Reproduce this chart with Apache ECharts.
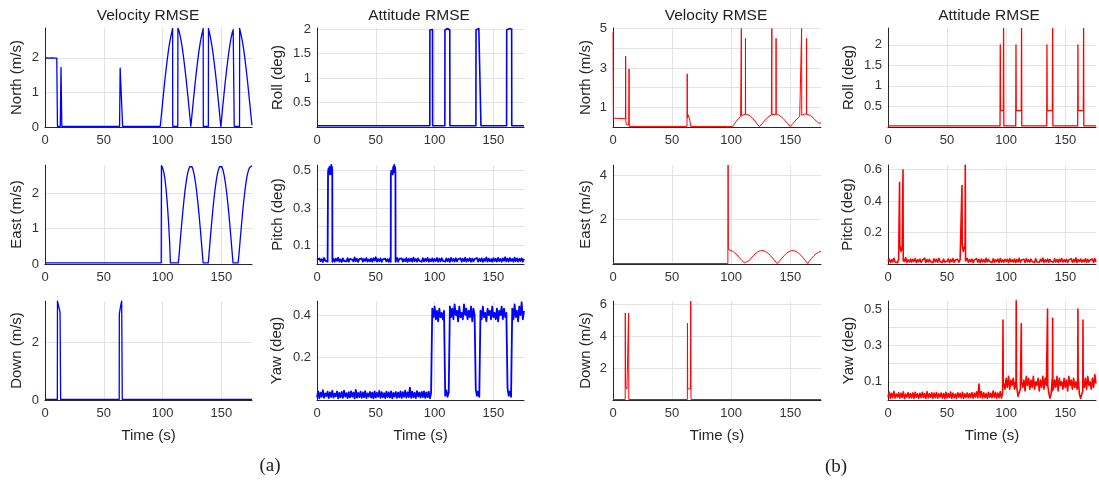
<!DOCTYPE html>
<html><head><meta charset="utf-8">
<script src="https://cdn.jsdelivr.net/npm/echarts@6/dist/echarts.min.js"></script>
<style>html,body{margin:0;padding:0;background:#fff}#c{width:1099px;height:483px}</style>
</head><body><div id="c"></div><script>
// ---------------- DATA ----------------
const xTicks = [0, 50, 100, 150];
const X_MAX = 176;

// (a) Velocity North (m/s)  [t, value]
const northA = [
[0,1.99],[1,1.95],[2,2.0],[3,1.96],[4,1.99],[5,1.95],[6,2.0],[7,1.96],[8,1.99],[9,1.95],[10,1.99],[10.5,1.96],[10.6,0.02],
[13.0,0.02],[13.6,1.72],[14.3,0.02],
[63.4,0.02],[63.9,1.7],[66.0,0.02],
[98,0.02],[99,0.36],[100,0.71],[101,1.05],[102,1.38],[103,1.68],[104,1.96],[105,2.22],[106,2.44],[107,2.62],[108,2.77],[108.5,2.85],[108.6,0.02],
[112.9,0.02],[113,2.85],[114,2.77],[115,2.62],[116,2.44],[117,2.22],[118,1.96],[119,1.68],[120,1.38],[121,1.05],[122,0.71],[123,0.36],[124,0.02],
[125,0.36],[126,0.71],[127,1.05],[128,1.38],[129,1.68],[130,1.96],[131,2.22],[132,2.44],[133,2.62],[134,2.77],[134.5,2.85],[134.6,0.02],
[138.9,0.02],[139,2.85],[140,2.70],[141,2.53],[142,2.33],[143,2.09],[144,1.82],[145,1.53],[146,1.22],[147,0.88],[148,0.54],[149,0.18],[149.5,0.02],
[150,0.18],[151,0.54],[152,0.88],[153,1.22],[154,1.53],[155,1.82],[156,2.09],[157,2.33],[158,2.53],[159,2.70],[160,2.81],[160.8,2.85],[160.9,0.02],
[165.4,0.02],[165.5,2.85],[166,2.77],[167,2.62],[168,2.44],[169,2.22],[170,1.96],[171,1.68],[172,1.38],[173,1.05],[174,0.71],[175,0.36],[176,0.05]
];
// (a) Velocity East (m/s)
const eastA = [
[0,0.03],[98.8,0.03],[99,2.78],[100,2.72],[101,2.6],[102,2.4],[103,2.1],[104,1.7],[105,1.2],[106,0.6],[106.6,0.03],
[113.4,0.03],[114,0.25],[115,0.66],[116,1.05],[117,1.42],[118,1.76],[119,2.06],[120,2.31],[121,2.52],[122,2.66],[123,2.75],[124,2.78],
[125,2.75],[126,2.65],[127,2.50],[128,2.29],[129,2.03],[130,1.73],[131,1.39],[132,1.01],[133,0.62],[134,0.21],[134.5,0.03],
[138.8,0.03],[139.4,0.25],[140.4,0.66],[141.4,1.05],[142.4,1.42],[143.4,1.76],[144.4,2.06],[145.4,2.31],[146.4,2.52],[147.4,2.66],[148.4,2.75],[149.4,2.78],
[150.4,2.75],[151.4,2.65],[152.4,2.50],[153.4,2.29],[154.4,2.03],[155.4,1.73],[156.4,1.39],[157.4,1.01],[158.4,0.62],[159.4,0.21],[159.9,0.03],
[164.2,0.03],[165,0.3],[166,0.7],[167,1.08],[168,1.45],[169,1.79],[170,2.08],[171,2.33],[172,2.52],[173,2.65],[174,2.73],[175,2.77],[176,2.78]
];
// (a) Velocity Down (m/s)
const downA = [[0,0.02],[10.5,0.02],[10.6,3.45],[11.3,3.4],[12.8,3.05],[13.2,3.0],[13.3,0.02],[63.1,0.02],[63.2,3.0],[64.2,3.25],[65.2,3.45],[65.6,3.45],[65.7,0.02],[176,0.02]];
// (a) Attitude Roll (deg)
const rollA = [
[0,0.025],[95.9,0.025],[96,1.98],[96.4,2.0],[97,1.99],[97.6,2.0],[98.2,1.99],[98.3,0.025],
[108.7,0.025],[108.8,1.98],[109.5,2.0],[110.3,1.99],[111,2.01],[111.8,1.99],[112.5,2.0],[112.9,1.98],[113,0.025],
[135.1,0.025],[135.2,1.98],[136,2.0],[136.8,1.99],[137.6,2.01],[138.4,1.99],[139.3,2.0],[139.4,0.025],
[161.2,0.025],[161.3,1.98],[162.1,2.0],[162.9,1.99],[163.7,2.01],[164.5,1.99],[165.5,2.0],[165.6,0.025],[176,0.025]
];
// (a) Attitude Pitch (deg): 1-s samples [startTime, values] + pulses
const pitchA_noise = [
[0,[0.021,0.012,0.030,0.015,0.026,0.011,0.033,0.018,0.024,0.013]],
[10,[0.028,0.016,0.031,0.014,0.027,0.012,0.029,0.017,0.034,0.013]],
[20,[0.025,0.011,0.030,0.016,0.022,0.014,0.031,0.012,0.027,0.018]],
[30,[0.024,0.013,0.035,0.015,0.028,0.011,0.026,0.017,0.030,0.012]],
[40,[0.027,0.016,0.032,0.013,0.025,0.014,0.029,0.012,0.031,0.018]],
[50,[0.036,0.013,0.027,0.015,0.030,0.011,0.025,0.017,0.029,0.014]],
[60,[0.026,0.012,0.030,0.016,0.028,0.013,0.031,0.015,0.033,0.012]],
[70,[0.027,0.017,0.030,0.013,0.026,0.015,0.032,0.011,0.028,0.016]],
[80,[0.029,0.012,0.034,0.015,0.027,0.013,0.030,0.017,0.025,0.012]],
[90,[0.031,0.014,0.028,0.016,0.033,0.012,0.026,0.015,0.030,0.013]],
[100,[0.027,0.016,0.032,0.012,0.029,0.014,0.031,0.017,0.026,0.013]],
[110,[0.030,0.015,0.028,0.011,0.033,0.016,0.027,0.013,0.031,0.014]],
[120,[0.026,0.017,0.030,0.012,0.028,0.015,0.034,0.013,0.027,0.016]],
[130,[0.031,0.012,0.029,0.014,0.026,0.017,0.032,0.013,0.028,0.015]],
[140,[0.030,0.011,0.027,0.016,0.035,0.013,0.029,0.015,0.026,0.012]],
[150,[0.031,0.016,0.028,0.013,0.033,0.015,0.027,0.012,0.030,0.017]],
[160,[0.036,0.014,0.029,0.013,0.032,0.016,0.027,0.012,0.034,0.015]],
[170,[0.030,0.013,0.028,0.016,0.031,0.012,0.027]]
];
const pitchA_pulses = [
[[9.3,0.012],[9.4,0.49],[9.8,0.51],[10.2,0.49],[10.6,0.52],[11,0.48],[11.4,0.51],[11.8,0.49],[12.1,0.53],[12.4,0.48],[12.7,0.52],[13,0.5],[13.1,0.012]],
[[62.7,0.012],[62.8,0.48],[63.2,0.5],[63.6,0.49],[64,0.51],[64.4,0.48],[64.8,0.52],[65.2,0.49],[65.6,0.53],[66,0.5],[66.4,0.52],[66.7,0.49],[66.8,0.012]]
];
// (a) Attitude Yaw (deg): 1-s samples
const yawA_noise = [
[0,[0.012,0.041,0.008,0.035,0.015,0.046,0.010,0.031,0.018,0.039]],
[10,[0.009,0.036,0.014,0.043,0.011,0.030,0.017,0.040,0.008,0.034]],
[20,[0.013,0.038,0.010,0.044,0.016,0.032,0.009,0.037,0.012,0.041]],
[30,[0.015,0.035,0.008,0.048,0.011,0.033,0.014,0.039,0.010,0.036]],
[40,[0.013,0.042,0.009,0.031,0.016,0.038,0.011,0.035,0.008,0.040]],
[50,[0.012,0.034,0.015,0.043,0.010,0.037,0.013,0.032,0.009,0.039]],
[60,[0.014,0.036,0.011,0.041,0.008,0.033,0.016,0.038,0.010,0.035]],
[70,[0.013,0.040,0.009,0.037,0.015,0.044,0.011,0.036,0.014,0.058]],
[80,[0.010,0.039,0.013,0.034,0.009,0.042,0.016,0.035,0.011,0.038]],
[90,[0.014,0.041,0.010,0.036,0.013,0.039,0.008,0.033]],
[98,[0.43,0.39,0.44,0.38,0.42,0.37,0.43,0.39,0.41,0.38,0.42]],
[109,[0.02,0.045,0.015,0.035]],
[113,[0.44,0.39,0.43,0.38,0.45,0.40,0.42,0.37,0.44,0.39,0.41]],
[124,[0.38,0.45,0.40,0.43,0.38,0.42,0.39,0.44,0.37,0.43,0.40]],
[135,[0.05,0.02,0.04,0.015]],
[139,[0.42,0.38,0.44,0.39,0.41,0.37,0.43,0.40,0.42,0.38,0.44,0.39]],
[151,[0.41,0.38,0.43,0.37,0.42,0.40,0.44,0.38,0.43,0.39,0.41]],
[162,[0.055,0.02,0.04,0.015]],
[166,[0.43,0.38,0.45,0.39,0.42,0.37,0.44,0.40,0.46,0.38,0.42]]
];
// (b) Velocity North (m/s)
const northB = [
[0,4.8],[0.3,0.45],[1.5,0.42],[10.5,0.42],[10.7,3.6],[10.9,0.25],[11.5,0.12],[13.3,0.1],[13.6,2.95],[13.8,0.03],
[62.6,0.03],[62.8,2.7],[63.0,0.45],[63.6,0.62],[64.4,0.58],[65.0,0.35],[65.8,0.03],
[96.8,0.03],[97.3,0.12],[98,0.05],[101,0.02],[102,0.09],[104,0.26],[106,0.42],[108,0.54],[108.5,0.57],[108.6,5.0],[108.7,0.58],
[110,0.62],[112,0.65],[112.1,4.5],[112.2,0.65],[114,0.63],[116,0.56],[118,0.45],[120,0.31],[122,0.15],[124,0.02],
[126,0.16],[128,0.3],[130,0.43],[132,0.54],[134,0.61],[134.3,0.62],[134.4,5.0],[134.5,0.62],[136,0.65],[137.9,0.65],[138,4.5],[138.1,0.65],
[140,0.61],[142,0.54],[144,0.43],[146,0.3],[148,0.16],[150,0.02],[152,0.16],[154,0.3],[156,0.43],[158,0.54],[159.5,0.6],[159.6,5.0],[159.7,0.6],
[162,0.65],[163.7,0.65],[163.8,4.5],[163.9,0.65],[166,0.61],[168,0.54],[170,0.43],[172,0.3],[174,0.2],[176,0.2]
];
// (b) Velocity East (m/s)
const eastB = [
[0,0.02],[97.2,0.02],[97.4,4.45],[97.6,0.65],[99,0.63],[101,0.58],[103,0.5],[105,0.4],[107,0.28],[109,0.16],[111,0.06],[112.5,0.02],[113,0.1],[113.5,0.03],
[115,0.14],[117,0.27],[119,0.39],[121,0.49],[123,0.56],[125,0.6],[127,0.6],[129,0.56],[131,0.49],[133,0.39],[135,0.27],[137,0.14],[139,0.02],[139.4,0.08],[139.8,0.03],
[141,0.14],[143,0.27],[145,0.39],[147,0.49],[149,0.56],[151,0.6],[153,0.6],[155,0.56],[157,0.49],[159,0.39],[161,0.27],[163,0.14],[164.7,0.02],[165.1,0.08],[165.5,0.03],
[166,0.12],[168,0.25],[170,0.37],[172,0.46],[174,0.53],[176,0.58]
];
// (b) Velocity Down (m/s)
const downB = [[0,0.03],[10.3,0.03],[10.4,5.45],[10.6,0.85],[11,0.75],[11.8,0.7],[12.6,0.72],[13,0.8],[13.2,5.45],[13.4,0.03],
[62.9,0.03],[63,4.8],[63.2,0.7],[64,0.6],[64.8,0.62],[65.6,0.7],[65.8,6.2],[66,0.03],[176,0.03]];
// (b) Attitude Roll (deg)
const rollB = [[0,0.025],[94.8,0.025],[95,2.0],[95.2,0.4],[97.6,0.4],[97.8,2.4],[98,0.025],
[108.1,0.025],[108.3,2.0],[108.5,0.4],[112.8,0.4],[113,2.4],[113.2,0.025],
[134.3,0.025],[134.5,2.0],[134.7,0.4],[139.1,0.4],[139.3,2.4],[139.5,0.025],
[160.5,0.025],[160.7,2.0],[160.9,0.4],[165.3,0.4],[165.5,2.4],[165.7,0.025],[176,0.025]];
// (b) Attitude Pitch (deg)
const pitchB_noise = [
[0,[0.018,0.032,0.010,0.027,0.014,0.036,0.012,0.024,0.009,0.030]],
[10,[0.015,0.028,0.011,0.033,0.016,0.041,0.010,0.026,0.013,0.031]],
[20,[0.012,0.029,0.016,0.034,0.009,0.027,0.014,0.032,0.011,0.025]],
[30,[0.017,0.038,0.010,0.028,0.013,0.030,0.015,0.026,0.009,0.033]],
[40,[0.014,0.029,0.011,0.036,0.016,0.027,0.010,0.031,0.013,0.025]],
[50,[0.018,0.032,0.009,0.028,0.015,0.034,0.011,0.026,0.014,0.030]],
[60,[0.012,0.027,0.016,0.033,0.010,0.029,0.013,0.035,0.011,0.028]],
[70,[0.015,0.031,0.009,0.026,0.017,0.034,0.012,0.029,0.010,0.032]],
[80,[0.014,0.027,0.011,0.037,0.013,0.030,0.016,0.025,0.010,0.033]],
[90,[0.012,0.028,0.015,0.031,0.009,0.035,0.013,0.026,0.011,0.030]],
[100,[0.016,0.029,0.010,0.034,0.014,0.027,0.012,0.032,0.009,0.028]],
[110,[0.013,0.036,0.011,0.026,0.015,0.030,0.010,0.033,0.014,0.027]],
[120,[0.012,0.031,0.016,0.028,0.009,0.034,0.013,0.025,0.011,0.030]],
[130,[0.015,0.038,0.010,0.027,0.014,0.032,0.012,0.029,0.016,0.026]],
[140,[0.011,0.033,0.013,0.028,0.010,0.031,0.015,0.035,0.012,0.027]],
[150,[0.014,0.030,0.009,0.026,0.016,0.034,0.011,0.029,0.013,0.039]],
[160,[0.010,0.028,0.015,0.032,0.012,0.027,0.014,0.033,0.011,0.030]],
[170,[0.013,0.026,0.016,0.031,0.010,0.035,0.012]]
];
const pitchB_pulses = [
[[9.6,0.02],[9.8,0.52],[10,0.12],[10.5,0.1],[11,0.08],[11.5,0.09],[12,0.11],[12.5,0.12],[12.7,0.6],[12.9,0.02]],
[[62.4,0.02],[62.6,0.5],[62.8,0.12],[63.3,0.1],[63.8,0.08],[64.3,0.1],[64.8,0.11],[65.2,0.12],[65.4,0.63],[65.6,0.02]]
];
// (b) Attitude Yaw (deg)
const yawB_noise = [
[0,[0.015,0.044,0.009,0.037,0.013,0.048,0.011,0.033,0.017,0.040]],
[10,[0.010,0.038,0.014,0.045,0.008,0.032,0.016,0.041,0.011,0.036]],
[20,[0.012,0.039,0.009,0.043,0.015,0.034,0.010,0.037,0.013,0.042]],
[30,[0.014,0.036,0.008,0.046,0.012,0.035,0.015,0.040,0.009,0.038]],
[40,[0.013,0.041,0.010,0.034,0.016,0.039,0.011,0.036,0.008,0.043]],
[50,[0.012,0.035,0.014,0.044,0.009,0.038,0.013,0.033,0.010,0.040]],
[60,[0.015,0.037,0.011,0.042,0.009,0.034,0.014,0.039,0.012,0.036]],
[70,[0.013,0.041,0.010,0.038,0.016,0.045,0.012,0.088,0.014,0.047]],
[80,[0.011,0.040,0.013,0.036,0.009,0.043,0.015,0.037,0.012,0.050]],
[90,[0.014,0.042,0.010,0.038,0.013,0.046,0.011,0.040]],
[98,[0.11,0.06,0.12,0.07,0.13,0.06,0.11,0.08,0.12,0.06,0.10,0.07]],
[110,[0.02,0.01]],
[112,[0.06,0.12,0.07,0.11,0.05,0.13,0.08,0.12,0.06,0.11,0.07,0.13]],
[124,[0.06,0.10,0.08,0.12,0.05,0.11,0.07,0.13,0.06,0.12,0.08,0.10]],
[136,[0.04,0.01,0.03]],
[139,[0.12,0.06,0.11,0.07,0.13,0.05,0.12,0.08,0.10,0.06,0.12,0.07]],
[151,[0.11,0.05,0.13,0.08,0.11,0.06,0.12,0.07,0.10,0.06,0.12]],
[162,[0.03,0.01,0.02]],
[165,[0.11,0.07,0.12,0.06,0.13,0.08,0.10,0.06,0.12,0.07,0.14,0.09]]
];
const yawB_spikes = [
[[97.1,0.03],[97.3,0.44],[97.5,0.1]],[[108.3,0.07],[108.5,0.55],[108.7,0.1]],[[112.6,0.06],[112.8,0.42],[113,0.1]],
[[134.8,0.07],[135,0.5],[135.2,0.08]],[[139.1,0.05],[139.3,0.45],[139.5,0.1]],
[[160.5,0.08],[160.7,0.5],[160.9,0.09]],[[164.8,0.05],[165,0.44],[165.2,0.1]]
];
// y tick labels per panel
const ticksNorthA=[0,1,2], ticksEastA=[0,1,2], ticksDownA=[0,2];
const ticksRollA=[0.5,1,1.5,2], ticksPitchA=[0.1,0.3,0.5], ticksYawA=[0.2,0.4];
const ticksNorthB=[1,3,5], ticksEastB=[2,4], ticksDownB=[2,4,6];
const ticksRollB=[0.5,1,1.5,2], ticksPitchB=[0.2,0.4,0.6], ticksYawB=[0.1,0.3,0.5];

// ---------------- BUILD ----------------
function expand(segs){const p=[];segs.forEach(([t0,vals])=>vals.forEach((v,i)=>p.push([t0+i,v])));return p;}
function merge(base,groups){let pts=base.slice();groups.forEach(g=>{const a=g[0][0],b=g[g.length-1][0];pts=pts.filter(p=>p[0]<a||p[0]>b);pts=pts.concat(g);});pts.sort((p,q)=>p[0]-q[0]);return pts;}
const BLUE='#0000ff', RED='#ff0000';
const FONT='"Liberation Sans", Arial, Helvetica, sans-serif';
const ROWS=[28,165,301], H=99;
const panels=[
 {x:45,w:207,row:0,data:northA,color:BLUE,lw:1.3,max:2.86,int:1,labels:ticksNorthA,name:'North (m/s)',gap:21},
 {x:45,w:207,row:1,data:eastA,color:BLUE,lw:1.3,max:2.8,int:1,labels:ticksEastA,name:'East (m/s)',gap:21},
 {x:45,w:207,row:2,data:downA,color:BLUE,lw:1.3,max:3.45,int:2,labels:ticksDownA,name:'Down (m/s)',gap:21},
 {x:317,w:207,row:0,data:rollA,color:BLUE,lw:1.6,max:2.02,int:0.5,labels:ticksRollA,name:'Roll (deg)',gap:32},
 {x:317,w:207,row:1,data:merge(expand(pitchA_noise),pitchA_pulses),color:BLUE,lw:1.8,max:0.53,int:0.1,labels:ticksPitchA,name:'Pitch (deg)',gap:32},
 {x:317,w:207,row:2,data:expand(yawA_noise),color:BLUE,lw:1.8,max:0.466,int:0.2,labels:ticksYawA,name:'Yaw (deg)',gap:33},
 {x:613,w:208,row:0,data:northB,color:RED,lw:1,max:5.03,int:1,labels:ticksNorthB,name:'North (m/s)',gap:20},
 {x:613,w:208,row:1,data:eastB,color:RED,lw:1,max:4.45,int:2,labels:ticksEastB,name:'East (m/s)',gap:20},
 {x:613,w:208,row:2,data:downB,color:RED,lw:1,max:6.2,int:2,labels:ticksDownB,name:'Down (m/s)',gap:20},
 {x:888,w:208,row:0,data:rollB,color:RED,lw:1.3,max:2.41,int:0.5,labels:ticksRollB,name:'Roll (deg)',gap:32},
 {x:888,w:208,row:1,data:merge(expand(pitchB_noise),pitchB_pulses),color:RED,lw:1.6,max:0.63,int:0.2,labels:ticksPitchB,name:'Pitch (deg)',gap:33},
 {x:888,w:208,row:2,data:merge(expand(yawB_noise),yawB_spikes),color:RED,lw:1.6,max:0.545,int:0.1,labels:ticksYawB,name:'Yaw (deg)',gap:32}
];
function fmt(v,list){for(const l of list){if(Math.abs(l-v)<1e-6)return String(l);}return '';}
const grid=[],xAxis=[],yAxis=[],series=[];
panels.forEach((p,i)=>{
 grid.push({left:p.x,top:ROWS[p.row],width:p.w,height:H});
 xAxis.push({type:'value',gridIndex:i,min:0,max:X_MAX,interval:50,
  axisLine:{onZero:false,lineStyle:{color:'#262626',width:1}},axisTick:{show:false},
  axisLabel:{margin:7,fontSize:13,fontFamily:FONT,color:'#333',formatter:v=>fmt(v,xTicks)},
  splitLine:{show:true,showMinLine:false,showMaxLine:false,lineStyle:{color:'#e3e3e3',width:1}},
  name:p.row===2?'Time (s)':'',nameLocation:'middle',nameGap:28,
  nameTextStyle:{fontSize:15,fontFamily:FONT,color:'#262626'}});
 yAxis.push({type:'value',gridIndex:i,min:0,max:p.max,interval:p.int,
  axisLine:{show:true,onZero:false,lineStyle:{color:'#262626',width:1}},axisTick:{show:false},
  axisLabel:{margin:6,fontSize:13,fontFamily:FONT,color:'#333',formatter:v=>fmt(v,p.labels)},
  splitLine:{show:true,showMinLine:false,showMaxLine:false,lineStyle:{color:'#e3e3e3',width:1}},
  name:p.name,nameLocation:'middle',nameRotate:90,nameGap:p.gap,
  nameTextStyle:{fontSize:15,fontFamily:FONT,color:'#262626'}});
 series.push({type:'line',xAxisIndex:i,yAxisIndex:i,data:p.data,showSymbol:false,symbol:'none',
  sampling:null,silent:true,clip:true,z:3,lineStyle:{color:p.color,width:p.lw,join:'round'}});
});
function txt(x,y,s,font){return {type:'text',x:x,y:y,silent:true,style:{text:s,font:font,fill:'#222',align:'center',verticalAlign:'middle',textAlign:'center',textVerticalAlign:'middle'}};}
const TF='15.5px '+FONT;
const graphic=[txt(148,16,'Velocity RMSE',TF),txt(419,16,'Attitude RMSE',TF),txt(716,16,'Velocity RMSE',TF),txt(989,16,'Attitude RMSE',TF),
 txt(270,466,'(a)','19px "Liberation Serif", "Times New Roman", serif'),txt(836,467,'(b)','19px "Liberation Serif", "Times New Roman", serif')];
const chart=echarts.init(document.getElementById('c'),null,{renderer:'canvas'});
chart.setOption({animation:false,backgroundColor:'#fff',grid,xAxis,yAxis,series,graphic});
</script></body></html>
